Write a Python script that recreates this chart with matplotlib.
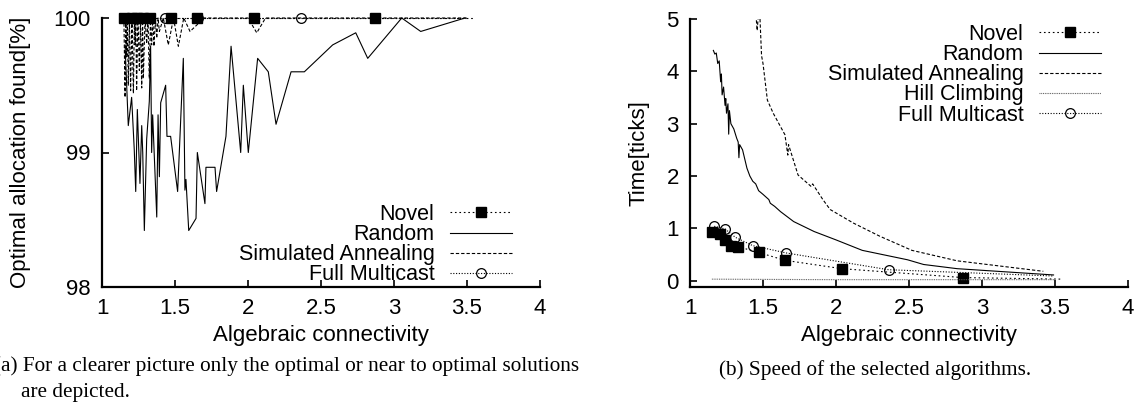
import matplotlib
matplotlib.use("Agg")
import matplotlib.pyplot as plt

# ---------------- data ----------------
# shared x positions (algebraic connectivity)
novel_x = [1.15, 1.205, 1.24, 1.28, 1.33, 1.47, 1.65, 2.04, 2.87, 3.55]
novel_opt = [100, 100, 100, 100, 100, 100, 100, 100, 100, 100]
novel_time = [0.94, 0.90, 0.78, 0.66, 0.65, 0.54, 0.39, 0.23, 0.06, 0.03]

fm_x = [1.166, 1.24, 1.31, 1.43, 1.66, 2.36, 3.49]
fm_opt = [100, 100, 100, 100, 100, 100, 100]
fm_time = [1.04, 0.99, 0.83, 0.67, 0.53, 0.21, 0.09]

random_opt_x = [1.158, 1.180, 1.203, 1.221, 1.231, 1.242, 1.260, 1.272, 1.279, 1.290,
                1.306, 1.324, 1.333, 1.340, 1.347, 1.358, 1.375, 1.384, 1.393, 1.402,
                1.436, 1.445, 1.470, 1.518, 1.557, 1.568, 1.575, 1.594, 1.644, 1.653,
                1.705, 1.712, 1.774, 1.785, 1.849, 1.884, 1.950, 1.968, 2.002, 2.066,
                2.139, 2.192, 2.295, 2.386, 2.580, 2.738, 2.820, 3.053, 3.183, 3.486]
random_opt = [99.80, 99.20, 99.41, 99.02, 98.71, 99.32, 98.77, 99.20, 99.00, 98.42,
              99.10, 99.38, 99.79, 99.00, 99.28, 98.98, 98.52, 99.28, 98.82, 99.37,
              99.50, 99.12, 99.12, 98.71, 99.70, 98.72, 98.80, 98.42, 98.51, 99.00,
              98.62, 98.89, 98.89, 98.71, 99.12, 99.79, 99.00, 99.50, 99.00, 99.70,
              99.60, 99.21, 99.60, 99.60, 99.80, 99.89, 99.70, 100.0, 99.90, 100.0]

sa_opt_x = [1.150, 1.158, 1.163, 1.169, 1.174, 1.180, 1.188, 1.196, 1.205, 1.215,
            1.222, 1.228, 1.232, 1.237, 1.246, 1.256, 1.264, 1.272, 1.278, 1.283,
            1.295, 1.306, 1.315, 1.324, 1.332, 1.340, 1.348, 1.356, 1.366, 1.375,
            1.384, 1.393, 1.420, 1.454, 1.490, 1.523, 1.560, 1.603, 1.700, 2.000,
            2.060, 2.120, 2.500, 3.000, 3.500]
sa_opt = [100, 99.41, 100, 99.71, 100, 99.50, 100, 99.46, 100, 99.44,
          100, 99.80, 100, 99.46, 100, 99.61, 100, 99.48, 100, 99.55,
          100, 99.81, 100, 99.55, 100, 99.80, 100, 99.79, 100, 99.85,
          100, 99.90, 100, 99.80, 100, 99.79, 100, 99.90, 100, 100,
          99.89, 100, 100, 100, 100]

random_time_x = [1.16, 1.17, 1.18, 1.19, 1.20, 1.21, 1.215, 1.22, 1.23, 1.24,
                 1.245, 1.25, 1.26, 1.265, 1.27, 1.28, 1.30, 1.32, 1.33, 1.335,
                 1.34, 1.36, 1.39, 1.41, 1.43, 1.45, 1.47, 1.50, 1.54, 1.55,
                 1.58, 1.62, 1.71, 1.85, 2.00, 2.18, 2.49, 2.60, 2.83, 3.49]
random_time = [4.40, 4.33, 4.35, 4.15, 4.20, 3.80, 3.95, 3.55, 3.70, 3.35,
               3.48, 3.20, 3.38, 2.80, 3.25, 3.00, 2.90, 2.72, 2.65, 2.35,
               2.60, 2.50, 2.15, 2.00, 1.90, 1.85, 1.72, 1.65, 1.55, 1.48,
               1.42, 1.32, 1.13, 0.94, 0.78, 0.58, 0.40, 0.31, 0.23, 0.11]

sa_time_x = [1.44, 1.46, 1.475, 1.49, 1.50, 1.53, 1.57, 1.65, 1.67, 1.675,
             1.74, 1.83, 1.84, 1.91, 1.96, 2.12, 2.30, 2.52, 2.83, 3.42]
sa_time = [5.5, 4.78, 5.3, 4.3, 4.15, 3.45, 3.20, 2.79, 2.40, 2.60,
           2.02, 1.80, 1.85, 1.55, 1.36, 1.10, 0.85, 0.58, 0.38, 0.18]

hc_time_x = [1.15, 1.5, 2.0, 2.5, 3.0, 3.5]
hc_time = [0.03, 0.025, 0.02, 0.02, 0.02, 0.02]

xticks = [1, 1.5, 2, 2.5, 3, 3.5, 4]
xticklabels = ["1", "1.5", "2", "2.5", "3", "3.5", "4"]
yticks_opt = [98, 99, 100]
yticks_time = [0, 1, 2, 3, 4, 5]

# ---------------- style ----------------
plt.rcParams['font.family'] = ['Liberation Sans', 'DejaVu Sans']
FS = 16
LFS = 15.5
novel_ls = (0, (1.5, 2.5))
sa_ls = (0, (3, 1.8))
hc_ls = (0, (0.8, 0.8))
fm_ls = (0, (1, 1.5))
LW = 0.8

fig = plt.figure(figsize=(11.4, 4.05), dpi=100)
W, H = 1140, 405


def axes_px(x0, y0, x1, y1):
    return fig.add_axes([x0 / W, 1 - y1 / H, (x1 - x0) / W, (y1 - y0) / H])


def style(ax):
    for s in ['top', 'right']:
        ax.spines[s].set_visible(False)
    for s in ['left', 'bottom']:
        ax.spines[s].set_linewidth(1.6)
    ax.tick_params(direction='in', length=5, width=1.2, labelsize=FS, pad=8)
    ax.set_xlim(1, 4)
    ax.set_xticks(xticks)
    ax.set_xticklabels(xticklabels)


# ---- left: optimality ----
ax1 = axes_px(102, 18, 540, 287)
style(ax1)
ax1.set_ylim(98, 100)
ax1.set_yticks(yticks_opt)
ax1.plot(novel_x, novel_opt, color='black', lw=LW, ls=novel_ls, marker='s', ms=7.5,
         markevery=list(range(len(novel_x) - 1)), label='Novel', clip_on=False)
ax1.plot(random_opt_x, random_opt, color='black', lw=LW, ls='-', label='Random', clip_on=False)
ax1.plot(sa_opt_x, sa_opt, color='black', lw=LW, ls=sa_ls, label='Simulated Annealing', clip_on=False)
ax1.plot(fm_x, fm_opt, color='black', lw=LW, ls=fm_ls, marker='o', ms=7, mfc='none', mew=0.9,
         markevery=list(range(len(fm_x) - 1)), label='Full Multicast', clip_on=False)
ax1.set_ylabel('Optimal allocation found[%]', fontsize=FS)
ax1.yaxis.set_label_coords((31 - 102) / 438, 0.5)
ax1.set_xlabel('Algebraic connectivity', fontsize=FS)
ax1.xaxis.set_label_coords(0.5, (287 - 325) / 269)
leg1 = ax1.legend(loc='upper right', bbox_to_anchor=(512 / W, 1 - 204 / H),
                  bbox_transform=fig.transFigure, frameon=False, markerfirst=False,
                  fontsize=LFS, handlelength=2.9, handletextpad=0.7, labelspacing=-0.04,
                  borderpad=0, borderaxespad=0)

# ---- right: speed ----
ax2 = axes_px(690, 19, 1128, 287)
style(ax2)
ax2.set_ylim(-0.12, 5)
ax2.set_yticks(yticks_time)
ax2.plot(novel_x, novel_time, color='black', lw=LW, ls=novel_ls, marker='s', ms=7.5,
         markevery=list(range(len(novel_x) - 1)), label='Novel')
ax2.plot(random_time_x, random_time, color='black', lw=LW, ls='-', label='Random')
ax2.plot(sa_time_x, sa_time, color='black', lw=LW, ls=sa_ls, label='Simulated Annealing')
ax2.plot(hc_time_x, hc_time, color='0.35', lw=LW, ls=hc_ls, label='Hill Climbing')
ax2.plot(fm_x, fm_time, color='black', lw=LW, ls=fm_ls, marker='o', ms=7, mfc='none', mew=0.9,
         markevery=list(range(len(fm_x) - 1)), label='Full Multicast')
ax2.set_ylabel('Time[ticks]', fontsize=FS)
ax2.yaxis.set_label_coords((649 - 690) / 438, 0.5)
ax2.set_xlabel('Algebraic connectivity', fontsize=FS)
ax2.xaxis.set_label_coords(0.5, (287 - 325) / 268)
leg2 = ax2.legend(loc='upper right', bbox_to_anchor=(1101 / W, 1 - 24 / H),
                  bbox_transform=fig.transFigure, frameon=False, markerfirst=False,
                  fontsize=LFS, handlelength=2.9, handletextpad=0.7, labelspacing=-0.04,
                  borderpad=0, borderaxespad=0)

# ---- captions ----
cap = dict(family=['Liberation Serif', 'DejaVu Serif'], fontsize=15.3, va='center')
fig.text(-6 / W, 1 - 366 / H,
         '(a) For a clearer picture only the optimal or near to optimal solutions', ha='left', **cap)
fig.text(21 / W, 1 - 392 / H, 'are depicted.', ha='left', **cap)
fig.text(875 / W, 1 - 370 / H, '(b) Speed of the selected algorithms.', ha='center', **cap)

fig.savefig('out.png', dpi=100)
